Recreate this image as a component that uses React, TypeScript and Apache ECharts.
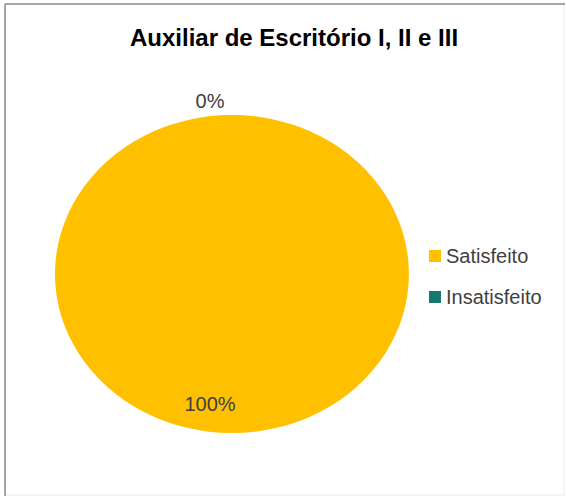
import React, { useEffect, useRef } from 'react';
import * as echarts from 'echarts';

const titleText = 'Auxiliar de Escritório I, II e III';
const categories = ['Satisfeito', 'Insatisfeito'];
const values = [100, 0];
const colors = ['#FFC000', '#17786F'];

const FONT = '"Liberation Sans", Arial, sans-serif';

export default function App() {
  const ref = useRef<HTMLDivElement>(null);
  useEffect(() => {
    const chart = echarts.init(ref.current!, null, { renderer: 'svg' });
    const total = values.reduce((a, b) => a + b, 0);
    const cx = 232;
    const cy = 274;
    const ry = 159;
    const rx = 177;

    const makeSeries = (i: number) => ({
      type: 'custom',
      name: categories[i],
      coordinateSystem: 'none',
      itemStyle: { color: colors[i] },
      data: [[values[i]]],
      renderItem: (params: any, api: any) => {
        const v = api.value(0) as number;
        const before = values.slice(0, i).reduce((a, b) => a + b, 0);
        const start = -Math.PI / 2 + (2 * Math.PI * before) / total;
        const end = start + (2 * Math.PI * v) / total;
        const mid = (start + end) / 2;
        const inside = v > 0;
        const lx = cx + (inside ? rx * 0.82 : rx + 14) * Math.cos(mid) - 22;
        const ly = cy + (inside ? ry * 0.82 : ry + 14) * Math.sin(mid);
        const children: any[] = [];
        if (v > 0) {
          children.push({
            type: 'sector',
            shape: { cx, cy, r: ry, r0: 0, startAngle: start, endAngle: end, clockwise: true },
            originX: cx,
            originY: cy,
            scaleX: rx / ry,
            style: { fill: colors[i] },
          });
        }
        children.push({
          type: 'text',
          x: lx,
          y: ly,
          z2: 10,
          style: {
            text: Math.round((v / total) * 100) + '%',
            fill: '#404040',
            fontSize: 20,
            fontFamily: FONT,
            align: 'center',
            verticalAlign: 'middle',
          },
        });
        return { type: 'group', children };
      },
    });

    chart.setOption({
      animation: false,
      backgroundColor: '#ffffff',
      title: {
        text: titleText,
        left: 289,
        textAlign: 'center',
        top: 20,
        textStyle: { fontSize: 24, fontWeight: 'bold', color: '#000', fontFamily: FONT },
      },
      legend: {
        orient: 'vertical',
        left: 424,
        top: 241,
        itemWidth: 12,
        itemHeight: 12,
        itemGap: 21,
        icon: 'rect',
        data: categories,
        textStyle: { fontSize: 20, color: '#404040', fontFamily: FONT },
      },
      graphic: [
        {
          type: 'rect',
          shape: { x: 5, y: 4, width: 559, height: 491 },
          style: { fill: 'none', stroke: '#EAEAEA', lineWidth: 1 },
          silent: true,
        },
        {
          type: 'line',
          shape: { x1: 5, y1: 4, x2: 565, y2: 4 },
          style: { stroke: '#A6A6A6', lineWidth: 2 },
          silent: true,
        },
        {
          type: 'line',
          shape: { x1: 5, y1: 4, x2: 5, y2: 496 },
          style: { stroke: '#A6A6A6', lineWidth: 2 },
          silent: true,
        },
      ],
      series: categories.map((_, i) => makeSeries(i)),
    });
    return () => chart.dispose();
  }, []);
  return (
    <div
      ref={ref}
      style={{ position: 'fixed', left: 0, top: 0, width: 566, height: 497 }}
    />
  );
}
